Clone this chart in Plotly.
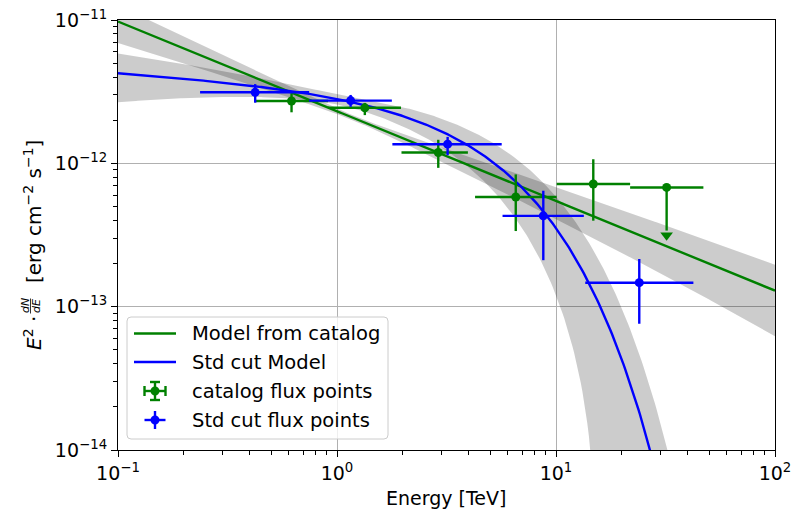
import numpy as np
import plotly.graph_objects as go

# ---------------- data ----------------
# Catalog flux points (E^2 dN/dE in erg cm^-2 s^-1, energies in TeV)
cat_e_ref = [0.62, 1.34, 2.90, 6.55, 14.8]
cat_e_min = [0.42, 0.91, 1.97, 4.27, 10.07]
cat_e_max = [0.91, 1.96, 3.96, 10.07, 21.8]
cat_flux = [2.72e-12, 2.44e-12, 1.19e-12, 5.82e-13, 7.18e-13]
cat_flux_errp = [0.35e-12, 0.20e-12, 0.27e-12, 2.55e-13, 3.50e-13]
cat_flux_errn = [0.45e-12, 0.27e-12, 0.26e-12, 2.45e-13, 3.20e-13]

# Catalog upper limit
cat_ul_e_ref = [32.0]
cat_ul_e_min = [21.8]
cat_ul_e_max = [47.1]
cat_ul_flux = [6.79e-13]
ul_arrow_fraction = 0.5

# Std cut flux points
std_e_ref = [0.423, 1.154, 3.20, 8.75, 24.0]
std_e_min = [0.237, 0.746, 1.79, 5.70, 13.6]
std_e_max = [0.746, 1.78, 5.65, 13.4, 42.4]
std_flux = [3.13e-12, 2.74e-12, 1.36e-12, 4.30e-13, 1.47e-13]
std_flux_errp = [0.44e-12, 0.26e-12, 0.17e-12, 2.14e-13, 0.68e-13]
std_flux_errn = [0.48e-12, 0.26e-12, 0.22e-12, 2.19e-13, 0.71e-13]

# Catalog model: power law
cat_sed_1tev = 2.31e-12
cat_index = 2.626
cat_pivot = 1.2
cat_amp_err = 0.04
cat_index_err = 0.117

# Std cut model: power law with exponential cutoff
std_sed_1tev = 3.45e-12
std_index = 2.10
std_ecut = 4.88
std_amp_err = 0.05
std_index_err = 0.16
std_lambda_err = 0.068
std_corr_index_lambda = -0.33

x_ticks = [0.1, 1, 10, 100]
x_ticktext = ["10<sup>−1</sup>", "10<sup>0</sup>", "10<sup>1</sup>", "10<sup>2</sup>"]
y_ticks = [1e-14, 1e-13, 1e-12, 1e-11]
y_ticktext = ["10<sup>−14</sup>", "10<sup>−13</sup>", "10<sup>−12</sup>", "10<sup>−11</sup>"]

# ---------------- models ----------------
energy = np.logspace(-1, 2, 400)

cat_sed = cat_sed_1tev * energy ** (2 - cat_index)
cat_rel = np.sqrt(cat_amp_err ** 2 + (cat_index_err * np.log(energy / cat_pivot)) ** 2)

lam = 1.0 / std_ecut
std_sed = std_sed_1tev * energy ** (2 - std_index) * np.exp(-lam * energy)
ln_e = np.log(energy)
std_var = (std_amp_err ** 2 + (std_index_err * ln_e) ** 2 + (std_lambda_err * energy) ** 2
           + 2 * std_corr_index_lambda * std_index_err * std_lambda_err * energy * ln_e)
std_rel = np.sqrt(std_var)


def band_polygon(sed, rel):
    upper = sed * (1 + rel)
    lower = np.clip(sed * (1 - rel), 1e-30, None)
    xs = np.concatenate([energy, energy[::-1]])
    ys = np.concatenate([upper, lower[::-1]])
    return xs, ys


GREEN = "#008000"
BLUE = "#0000ff"
BAND = "rgba(0,0,0,0.2)"
FONT = "DejaVu Sans"
FS = 19
LW = 2.4

fig = go.Figure()

for sed, rel in [(cat_sed, cat_rel), (std_sed, std_rel)]:
    bx, by = band_polygon(sed, rel)
    fig.add_trace(go.Scatter(x=bx, y=by, fill="toself", fillcolor=BAND,
                             line=dict(width=0), mode="lines", hoverinfo="skip"))

fig.add_trace(go.Scatter(x=energy, y=cat_sed, mode="lines",
                         line=dict(color=GREEN, width=LW), name="Model from catalog"))
fig.add_trace(go.Scatter(x=energy, y=std_sed, mode="lines",
                         line=dict(color=BLUE, width=LW), name="Std cut Model"))


def points_trace(e_ref, e_min, e_max, flux, errp, errn, color, name):
    return go.Scatter(
        x=e_ref, y=flux, mode="markers", name=name,
        marker=dict(color=color, size=9),
        error_x=dict(type="data", symmetric=False,
                     array=[b - a for a, b in zip(e_ref, e_max)],
                     arrayminus=[a - b for a, b in zip(e_ref, e_min)],
                     color=color, thickness=LW, width=0),
        error_y=dict(type="data", symmetric=False, array=errp, arrayminus=errn,
                     color=color, thickness=LW, width=0),
    )


fig.add_trace(points_trace(cat_e_ref, cat_e_min, cat_e_max, cat_flux,
                           cat_flux_errp, cat_flux_errn, GREEN, "catalog flux points"))

# upper limit: bin bar, downward line and arrow head
ul_low = [f * ul_arrow_fraction for f in cat_ul_flux]
fig.add_trace(go.Scatter(
    x=cat_ul_e_ref, y=cat_ul_flux, mode="markers",
    marker=dict(color=GREEN, size=9),
    error_x=dict(type="data", symmetric=False,
                 array=[b - a for a, b in zip(cat_ul_e_ref, cat_ul_e_max)],
                 arrayminus=[a - b for a, b in zip(cat_ul_e_ref, cat_ul_e_min)],
                 color=GREEN, thickness=LW, width=0),
    error_y=dict(type="data", symmetric=False, array=[0] * len(cat_ul_flux),
                 arrayminus=[f - l for f, l in zip(cat_ul_flux, ul_low)],
                 color=GREEN, thickness=LW, width=0),
))
fig.add_trace(go.Scatter(
    x=cat_ul_e_ref, y=[l * 10 ** (-0.033) for l in ul_low], mode="markers",
    marker=dict(color=GREEN, size=11, symbol="triangle-down", line=dict(width=0)),
))

fig.add_trace(points_trace(std_e_ref, std_e_min, std_e_max, std_flux,
                           std_flux_errp, std_flux_errn, BLUE, "Std cut flux points"))

# ---------------- layout ----------------
W, H = 793, 512
L, R, T, B = 118, 775, 20, 450


def px(x):
    return (x - L) / (R - L)


def py(y):
    return (B - y) / (B - T)


axis_common = dict(
    type="log", showline=True, linecolor="black", linewidth=1.2, mirror=True,
    ticks="outside", ticklen=6, tickwidth=1.2, tickcolor="black",
    showgrid=True, gridcolor="#b0b0b0", gridwidth=1.2, zeroline=False,
    tickfont=dict(family=FONT, size=FS, color="black"), tickmode="array",
    automargin=False,
)

x_minor = [m * 10.0 ** d for d in (-1, 0, 1) for m in range(2, 10)]
y_minor = [m * 10.0 ** d for d in (-14, -13, -12) for m in range(2, 10)]

fig.update_layout(
    width=W, height=H, autosize=False,
    margin=dict(l=L, r=W - R, t=T, b=H - B, autoexpand=False),
    paper_bgcolor="white", plot_bgcolor="white",
    showlegend=False,
    font=dict(family=FONT, color="black"),
    xaxis=dict(axis_common, range=[-1, 2], tickvals=x_ticks, ticktext=x_ticktext,
               minor=dict(tickmode="array", tickvals=x_minor, ticks="outside",
                          ticklen=3.5, tickwidth=1, tickcolor="black", showgrid=False)),
    yaxis=dict(axis_common, range=[-14, -11], tickvals=y_ticks, ticktext=y_ticktext,
               minor=dict(tickmode="array", tickvals=y_minor, ticks="outside",
                          ticklen=3.5, tickwidth=1, tickcolor="black", showgrid=False)),
)

annotations = []
shapes = []

# x axis title
annotations.append(dict(xref="paper", yref="paper", x=px(446), y=py(498), showarrow=False,
                        xanchor="center", yanchor="middle", text="Energy [TeV]",
                        font=dict(family=FONT, size=FS, color="black")))

# y axis title pieces (rotated)
annotations.append(dict(xref="paper", yref="paper", x=px(33), y=py(212), showarrow=False,
                        textangle=-90, xanchor="center", yanchor="middle",
                        text="[erg cm<sup>−2</sup> s<sup>−1</sup>]",
                        font=dict(family=FONT, size=20, color="black")))
annotations.append(dict(xref="paper", yref="paper", x=px(33), y=py(333), showarrow=False,
                        textangle=-90, xanchor="center", yanchor="middle",
                        text="<i>E</i><sup>2</sup> ·",
                        font=dict(family=FONT, size=20, color="black")))
annotations.append(dict(xref="paper", yref="paper", x=px(25), y=py(306), showarrow=False,
                        textangle=-90, xanchor="center", yanchor="middle",
                        text="<i>dN</i>", font=dict(family=FONT, size=11, color="black")))
annotations.append(dict(xref="paper", yref="paper", x=px(36), y=py(306), showarrow=False,
                        textangle=-90, xanchor="center", yanchor="middle",
                        text="<i>dE</i>", font=dict(family=FONT, size=11, color="black")))
shapes.append(dict(type="line", xref="paper", yref="paper", x0=px(30.5), x1=px(30.5),
                   y0=py(298.5), y1=py(313.5), line=dict(color="black", width=0.8)))

# legend box with rounded corners
bx0, bx1, by0, by1, rr = 127, 388, 317, 439, 4
path = (f"M {px(bx0 + rr)},{py(by0)} L {px(bx1 - rr)},{py(by0)} "
        f"Q {px(bx1)},{py(by0)} {px(bx1)},{py(by0 + rr)} L {px(bx1)},{py(by1 - rr)} "
        f"Q {px(bx1)},{py(by1)} {px(bx1 - rr)},{py(by1)} L {px(bx0 + rr)},{py(by1)} "
        f"Q {px(bx0)},{py(by1)} {px(bx0)},{py(by1 - rr)} L {px(bx0)},{py(by0 + rr)} "
        f"Q {px(bx0)},{py(by0)} {px(bx0 + rr)},{py(by0)} Z")
shapes.append(dict(type="path", xref="paper", yref="paper", path=path,
                   fillcolor="rgba(255,255,255,0.8)", line=dict(color="#cccccc", width=1),
                   layer="above"))

rows = [333.5, 362, 391, 420]
labels = ["Model from catalog", "Std cut Model", "catalog flux points", "Std cut flux points"]
colors = [GREEN, BLUE, GREEN, BLUE]

for i, (yy, lab, col) in enumerate(zip(rows, labels, colors)):
    annotations.append(dict(xref="paper", yref="paper", x=px(190), y=py(yy), showarrow=False,
                            xanchor="left", yanchor="middle", text=lab,
                            font=dict(family=FONT, size=19.5, color="black")))
    if i < 2:
        shapes.append(dict(type="line", xref="paper", yref="paper", x0=px(134), x1=px(176),
                           y0=py(yy), y1=py(yy), line=dict(color=col, width=LW), layer="above"))
    else:
        cx = 155
        shapes.append(dict(type="line", xref="paper", yref="paper", x0=px(cx - 10.5), x1=px(cx + 10.5),
                           y0=py(yy), y1=py(yy), line=dict(color=col, width=LW), layer="above"))
        shapes.append(dict(type="line", xref="paper", yref="paper", x0=px(cx), x1=px(cx),
                           y0=py(yy - 9), y1=py(yy + 9), line=dict(color=col, width=LW), layer="above"))
        if i == 2:
            for dx in (-10.5, 10.5):
                shapes.append(dict(type="line", xref="paper", yref="paper", x0=px(cx + dx), x1=px(cx + dx),
                                   y0=py(yy - 5), y1=py(yy + 5), line=dict(color=col, width=LW),
                                   layer="above"))
            for dy in (-9, 9):
                shapes.append(dict(type="line", xref="paper", yref="paper", x0=px(cx - 5), x1=px(cx + 5),
                                   y0=py(yy + dy), y1=py(yy + dy), line=dict(color=col, width=LW),
                                   layer="above"))
        shapes.append(dict(type="circle", xref="paper", yref="paper", x0=px(cx - 4.5), x1=px(cx + 4.5),
                           y0=py(yy - 4.5), y1=py(yy + 4.5), fillcolor=col, line=dict(width=0),
                           layer="above"))

fig.update_layout(annotations=annotations, shapes=shapes)

fig.write_html("out.html")
